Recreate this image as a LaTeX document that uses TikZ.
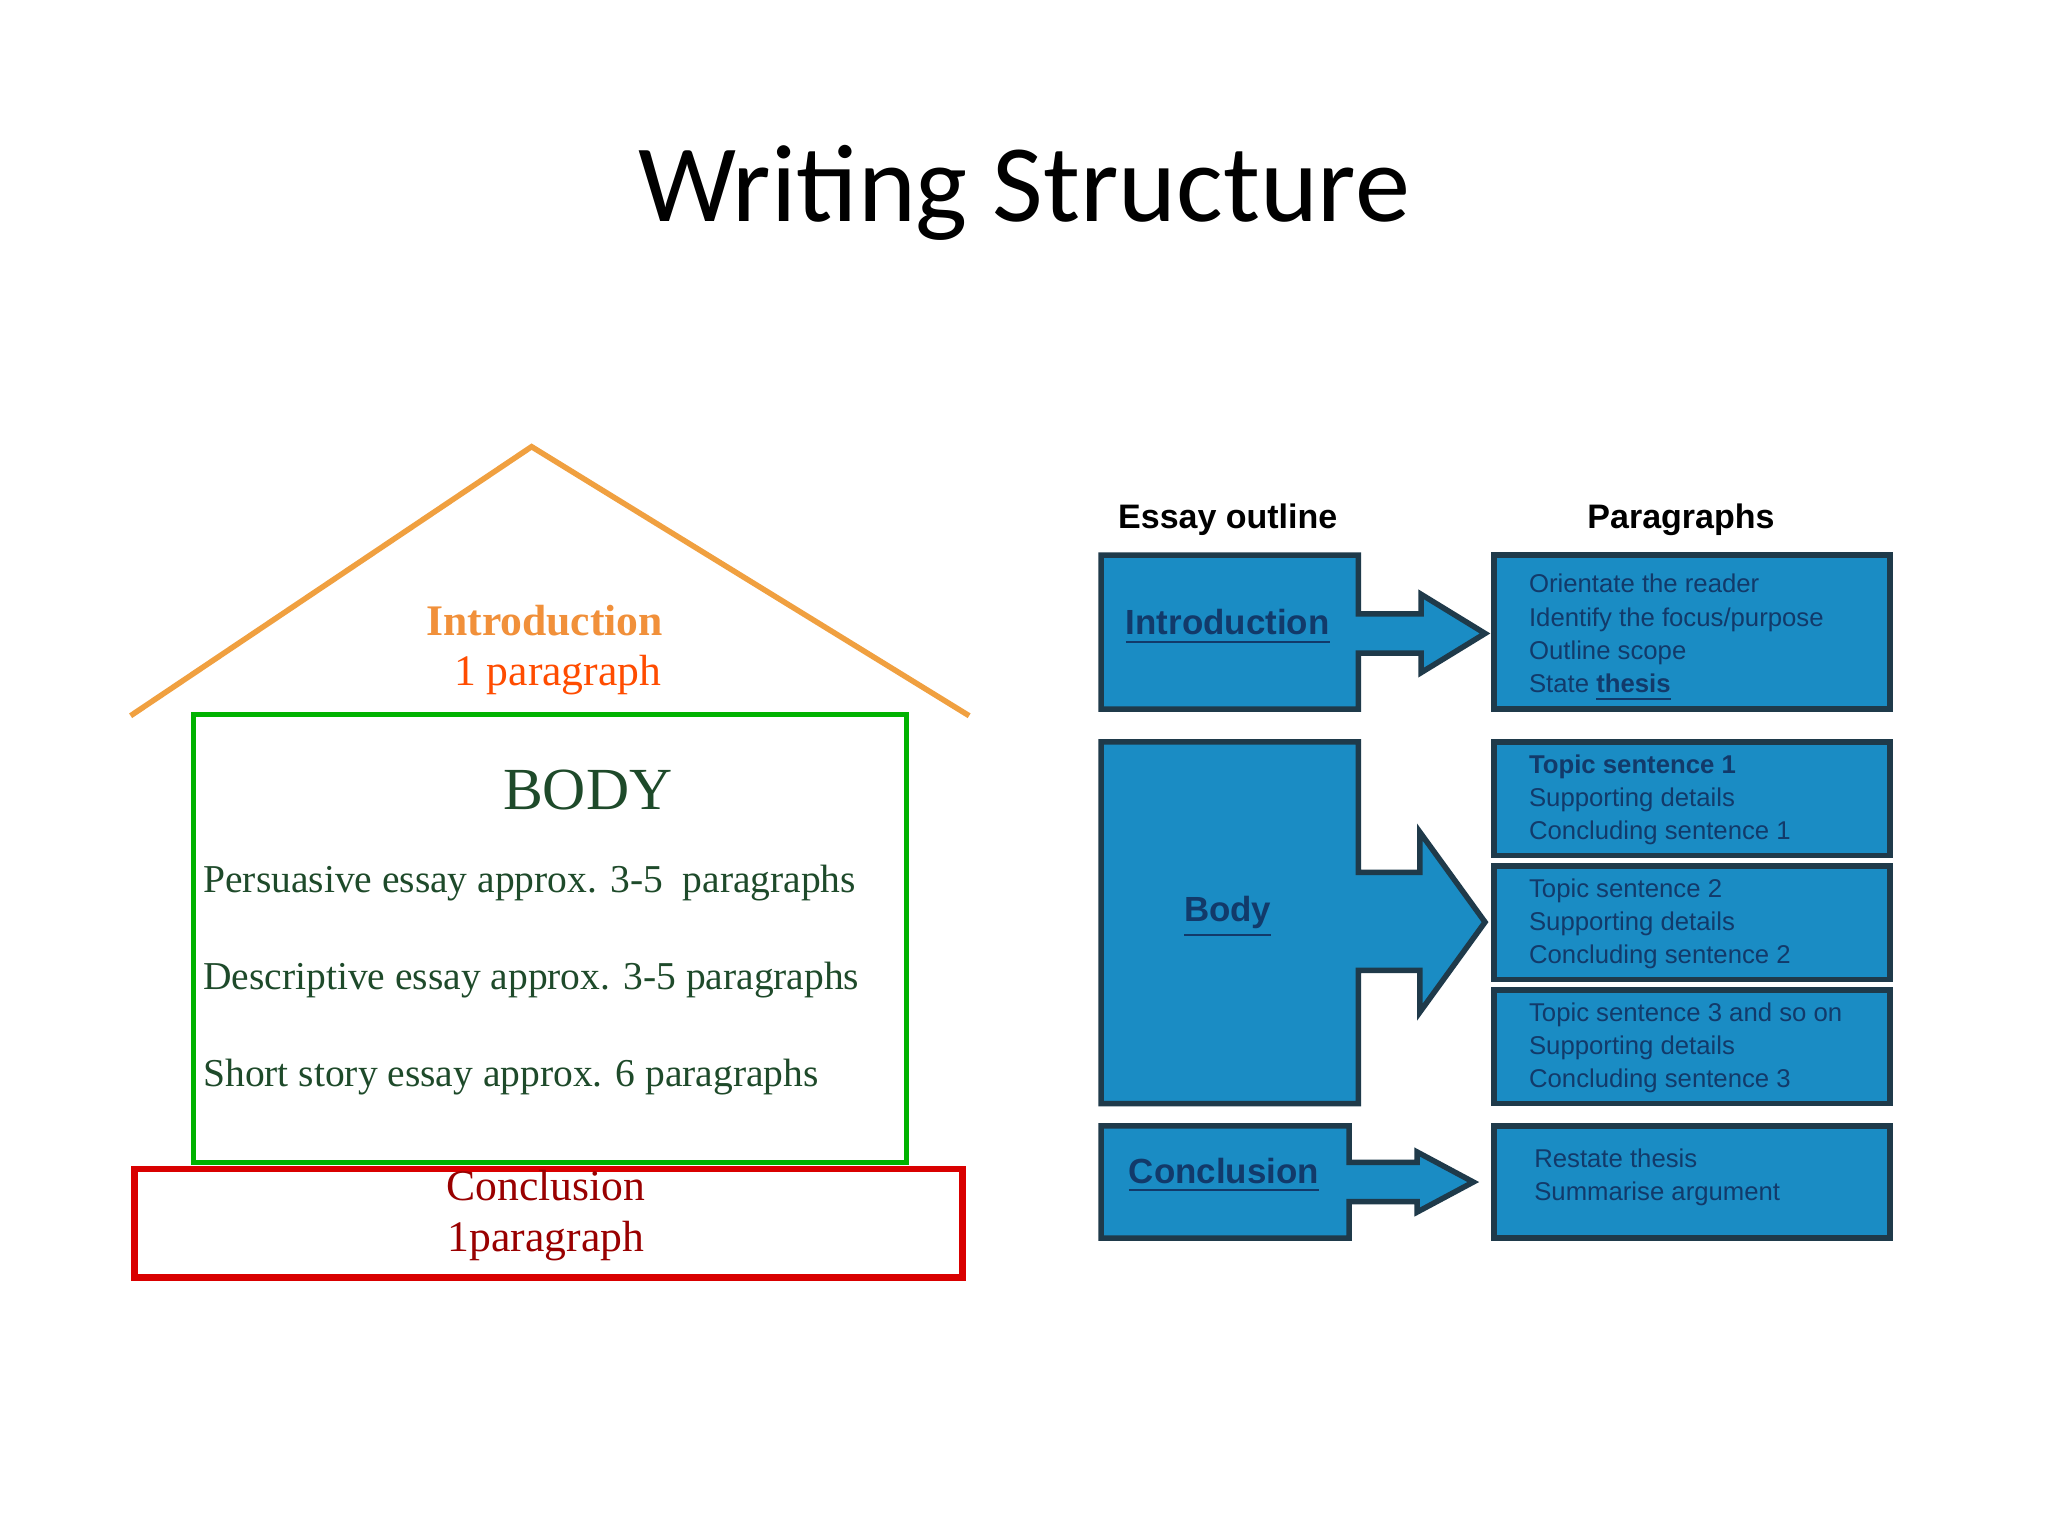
\documentclass[tikz,border=0pt]{standalone}
\usepackage{fontspec}
\setmainfont{Liberation Serif}
\newfontfamily\titlefont{Carlito}
\newfontfamily\sansf{Liberation Sans}
\begin{document}
\begin{tikzpicture}[x=0.01cm,y=-0.01cm,
  bluebox/.style={fill=boxblue,draw=boxedge,line width=1.2pt},
  ptext/.style={anchor=north west,align=left,font=\sansf\fontsize{5.6}{7.2}\selectfont,text=navy,inner sep=0pt},
  lbl/.style={font=\sansf\bfseries\fontsize{7.6}{9}\selectfont,text=navy},
  bodyline/.style={anchor=west,font=\fontsize{8.6}{10}\selectfont,text=dgreen,inner sep=0pt}]
\definecolor{boxblue}{HTML}{1A8CC4}
\definecolor{boxedge}{HTML}{1F3A4A}
\definecolor{navy}{HTML}{123A6A}
\definecolor{dgreen}{HTML}{1E4A2A}
\definecolor{orng}{HTML}{F0A040}
\useasboundingbox (0,0) rectangle (1568,1176);
\fill[white] (0,0) rectangle (1568,1176);
\node[font=\titlefont\fontsize{24}{28}\selectfont] (title) at (784,148) {Writing Structure};
% house
\draw[orng,line width=1.2pt] (100,548) -- (407,342) -- (742,548);
\draw[green!70!black,line width=1.2pt] (148,547) rectangle (694,890);
\draw[red!85!black,line width=1.4pt] (103,895) rectangle (737,978);
\node[font=\bfseries\fontsize{9.5}{11}\selectfont,text=orng!90!red] (intro) at (417,475) {Introduction};
\node[font=\fontsize{9.5}{11}\selectfont,text=orange!60!red] (introp) at (427,517) {1 paragraph};
\node[font=\fontsize{13}{15}\selectfont,text=dgreen] (body) at (450,605) {BODY};
\node[bodyline] (b1) at (155,676) {Persuasive essay approx. 3-5\ \ paragraphs};
\node[bodyline] (b2) at (155,750) {Descriptive essay approx. 3-5 paragraphs};
\node[bodyline] (b3) at (155,825) {Short story essay approx. 6 paragraphs};
\node[font=\fontsize{9.5}{11}\selectfont,text=red!60!black] (conc) at (418,908) {Conclusion};
\node[font=\fontsize{9.5}{11}\selectfont,text=red!60!black] (concp) at (418,950) {1paragraph};
% right diagram
\node[font=\sansf\bfseries\fontsize{7.4}{9}\selectfont] (h1) at (940,398) {Essay outline};
\node[font=\sansf\bfseries\fontsize{7.4}{9}\selectfont] (h2) at (1287,398) {Paragraphs};
% intro
\draw[bluebox] (843,425) -- (1040,425) -- (1040,470) -- (1088,470) -- (1088,455) -- (1137,485) -- (1088,515) -- (1088,500) -- (1040,500) -- (1040,543) -- (843,543) -- cycle;
\draw[bluebox] (1144,425) rectangle (1447,543);
\node[lbl] (li) at (940,480) {\underline{Introduction}};
\node[ptext] (p1) at (1170,439) {Orientate the reader\\Identify the focus/purpose\\Outline scope\\State \textbf{\underline{thesis}}};
% body
\draw[bluebox] (843,568) -- (1040,568) -- (1040,668) -- (1087,668) -- (1087,637) -- (1137,706) -- (1087,775) -- (1087,743) -- (1040,743) -- (1040,845) -- (843,845) -- cycle;
\draw[bluebox] (1144,568) rectangle (1447,655);
\draw[bluebox] (1144,663) rectangle (1447,750);
\draw[bluebox] (1144,758) rectangle (1447,845);
\node[lbl] (lb) at (940,702) {\underline{Body}};
\node[ptext] (p2) at (1170,577) {\textbf{Topic sentence 1}\\Supporting details\\Concluding sentence 1};
\node[ptext] (p3) at (1170,672) {Topic sentence 2\\Supporting details\\Concluding sentence 2};
\node[ptext] (p4) at (1170,767) {Topic sentence 3 and so on\\Supporting details\\Concluding sentence 3};
% conclusion
\draw[bluebox] (843,862) -- (1033,862) -- (1033,890) -- (1085,890) -- (1085,882) -- (1128,905) -- (1085,928) -- (1085,920) -- (1033,920) -- (1033,948) -- (843,948) -- cycle;
\draw[bluebox] (1144,862) rectangle (1447,948);
\node[lbl] (lc) at (937,900) {\underline{Conclusion}};
\node[ptext] (p5) at (1174,879) {Restate thesis\\Summarise argument};
\end{tikzpicture}
\end{document}
